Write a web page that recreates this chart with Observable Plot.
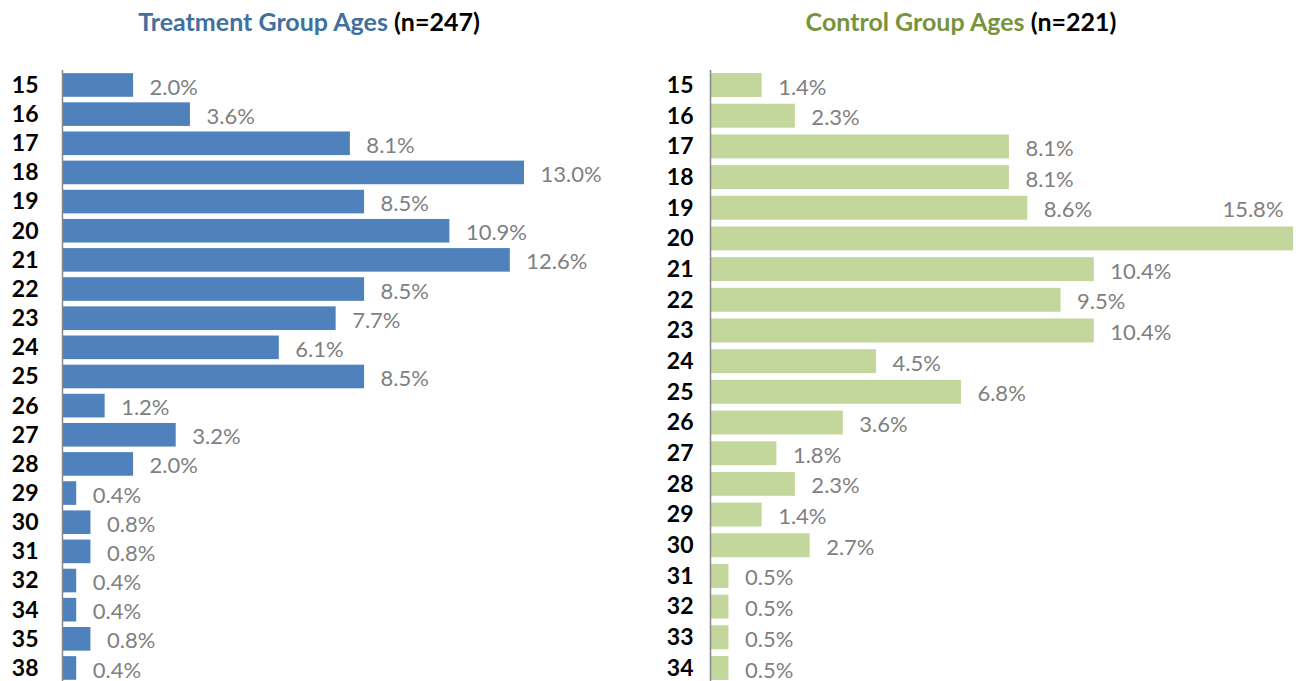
<!DOCTYPE html>
<html><head><meta charset="utf-8">
<script src="https://cdn.jsdelivr.net/npm/d3@7"></script>
<script src="https://cdn.jsdelivr.net/npm/@observablehq/plot@0.6"></script>
<style>
body{margin:0;background:#fff;font-family:Lato,sans-serif;}
#wrap{position:relative;width:1298px;height:681px;overflow:hidden;background:#fff;}
.title{position:absolute;top:6px;font-weight:bold;font-size:25px;white-space:nowrap;transform:translateX(-50%);color:#000;}
.panel{position:absolute;top:55px;}
</style></head><body>
<div id="wrap">
  <div class="title" style="left:309px"><span style="color:#41709f">Treatment Group Ages</span> (n=247)</div>
  <div class="title" style="left:961px"><span style="color:#77933c">Control Group Ages</span> (n=221)</div>
  <div class="panel" id="left" style="left:0px"></div>
  <div class="panel" id="right" style="left:649px"></div>
</div>
<script>
const treatmentAges = ["15","16","17","18","19","20","21","22","23","24","25","26","27","28","29","30","31","32","34","35","38"];
const treatmentPct = [2.0,3.6,8.1,13.0,8.5,10.9,12.6,8.5,7.7,6.1,8.5,1.2,3.2,2.0,0.4,0.8,0.8,0.4,0.4,0.8,0.4];
const controlAges = ["15","16","17","18","19","20","21","22","23","24","25","26","27","28","29","30","31","32","33","34"];
const controlPct = [1.4,2.3,8.1,8.1,8.6,15.8,10.4,9.5,10.4,4.5,6.8,3.6,1.8,2.3,1.4,2.7,0.5,0.5,0.5,0.5];

function panel(ages, pct, color, cfg) {
  const data = ages.map((a, i) => ({age: a, v: pct[i], label: pct[i].toFixed(1) + "%"}));
  const fits = d => d.v <= cfg.maxInline;
  return Plot.plot({
    width: 649,
    height: 626,
    marginLeft: cfg.ml,
    marginTop: 15,
    marginBottom: 0,
    marginRight: 0,
    style: {fontFamily: "Lato, sans-serif", background: "transparent", overflow: "visible"},
    x: {domain: [0, cfg.xmax], range: [cfg.ml, cfg.ml + cfg.xmax * cfg.pxPer], axis: null},
    y: {domain: ages, range: cfg.yrange, paddingInner: cfg.pad, paddingOuter: cfg.pad / 2, round: false, axis: null, label: null},
    marks: [
      Plot.barX(data, {x: "v", y: "age", fill: color}),
      Plot.ruleX([0], {stroke: "#888888", strokeWidth: 1.5}),
      Plot.axisY({tickSize: 0, tickPadding: cfg.tp, fontSize: 23, fontWeight: "bold", fill: "#000", label: null}),
      Plot.text(data.filter(fits), {x: "v", y: "age", text: "label", textAnchor: "start", dx: 16, dy: 2, fontSize: 22, fill: "#808080"}),
      Plot.text(data.filter(d => !fits(d)), {x: "v", y: "age", text: "label", textAnchor: "end", dx: -10, dy: 2 - cfg.step, fontSize: 22, fill: "#808080"})
    ]
  });
}

document.getElementById("left").append(panel(treatmentAges, treatmentPct, "#4f81bd",
  {ml: 62, xmax: 16.5, pxPer: 35.54, yrange: [15.4, 15.4 + 21 * 29.15], pad: 0.19, tp: 24, step: 29.15, maxInline: 15}));
document.getElementById("right").append(panel(controlAges, controlPct, "#c3d69b",
  {ml: 61, xmax: 16, pxPer: 36.9, yrange: [14.7, 14.7 + 20 * 30.68], pad: 0.22, tp: 17, step: 30.68, maxInline: 15}));
</script>
</body></html>
